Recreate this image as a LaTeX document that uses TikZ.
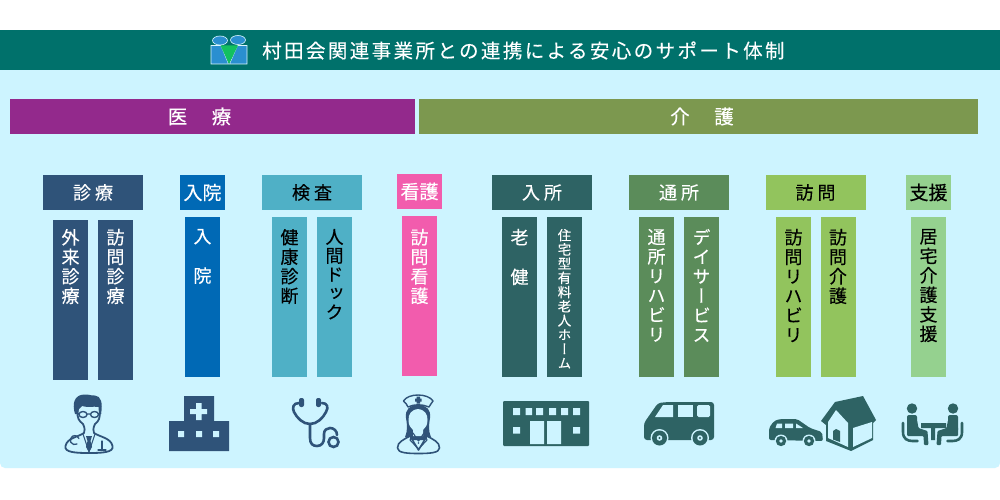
\documentclass[tikz,border=0pt]{standalone}
\usepackage{fontspec}
\setmainfont{Noto Sans CJK JP}
\newfontfamily\jpf[FakeBold=0.25]{Noto Sans CJK JP}
\newfontfamily\jpt[LetterSpace=12.3,FakeBold=0.15]{Noto Sans CJK JP}
\newfontfamily\jpv[RawFeature={+vert},FakeBold=0.25]{Noto Sans CJK JP}
\definecolor{band}{HTML}{00716B}
\definecolor{panel}{HTML}{CDF4FF}
\definecolor{purp}{HTML}{93298C}
\definecolor{olive}{HTML}{7C984F}
\definecolor{navy}{HTML}{2F5379}
\definecolor{blue}{HTML}{0069B5}
\definecolor{cyan2}{HTML}{4FB0C6}
\definecolor{pink}{HTML}{F25CAD}
\definecolor{teal2}{HTML}{2E6364}
\definecolor{gr1}{HTML}{5B8C5A}
\definecolor{gr2}{HTML}{92C45D}
\definecolor{gr3}{HTML}{95D18F}
\definecolor{logoblue}{HTML}{2A8FD0}
\definecolor{logogreen}{HTML}{12C060}
\tikzset{
  x=1pt,y=-1pt,
  bar/.style={inner sep=0pt,outer sep=0pt,minimum height=35pt,text=white,font=\jpf\fontsize{19.5}{22}\selectfont},
  head/.style={inner sep=0pt,outer sep=0pt,minimum height=35pt,font=\jpf\fontsize{18}{20}\selectfont},
  wide/.style={head,minimum width=100pt},
  narrow/.style={head,minimum width=45pt,font=\jpf\fontsize{19}{20}\selectfont},
  colbox/.style={inner sep=0pt,outer sep=0pt,minimum width=35pt,minimum height=160pt},
  vtext/.style={inner sep=0pt,outer sep=0pt,anchor=north,align=center,font=\jpv\fontsize{18}{19.5}\selectfont},
  tight/.style={vtext,font=\jpv\fontsize{18}{18.8}\selectfont},
  small/.style={vtext,font=\jpv\fontsize{13.5}{14.2}\selectfont},
  ico/.style={line width=1.8pt,draw=navy,line join=round,line cap=round},
}
\begin{document}
\begin{tikzpicture}
\path[use as bounding box,fill=white] (0,0) rectangle (1000,500);
\fill[panel,rounded corners=5pt] (0,60) rectangle (1000,468);
\fill[band] (0,30) rectangle (1000,70);
% logo
\path[draw=panel!70!white,line width=.6pt,fill=logoblue] (211,45.5) -- (221,45.5) -- (228.5,64) -- (211,64) -- cycle;
\path[draw=panel!70!white,line width=.6pt,fill=logoblue] (247,45.5) -- (237.5,45.5) -- (229.5,64) -- (247,64) -- cycle;
\path[fill=logogreen] (220.5,45.5) -- (238,45.5) -- (229,64) -- cycle;
\path[draw=panel!70!white,line width=.6pt,fill=logoblue] (220,40.5) ellipse (7.5 and 4.5);
\path[draw=panel!70!white,line width=.6pt,fill=logoblue] (238,40) ellipse (7.5 and 4.5);
\node[inner sep=0pt,anchor=west,text=white,font=\jpt\fontsize{19.5}{21}\selectfont] (title) at (262,50.5) {村田会関連事業所との連携による安心のサポート体制};
% main bars
\node[bar,fill=purp,minimum width=405pt] (med) at (212.5,116.5) {\hspace*{-26pt}医　\hspace{5pt}療};
\node[bar,fill=olive,minimum width=559pt] (care) at (698.5,116.5) {\hspace*{7pt}介　\hspace{5pt}護};
% headers
\node[wide,fill=navy,text=white] (h1) at (93,192.5) {診\hspace{4pt}療};
\node[narrow,fill=blue,text=white] (h2) at (202.5,192.5) {入院};
\node[wide,fill=cyan2,text=black] (h3) at (312,192.5) {検\hspace{4pt}査};
\node[narrow,fill=pink,text=white] (h4) at (419.5,191.5) {看護};
\node[wide,fill=teal2,text=white] (h5) at (542,192.5) {入\hspace{4pt}所};
\node[wide,fill=gr1,text=white] (h6) at (679,192.5) {通\hspace{4pt}所};
\node[wide,fill=gr2,text=black] (h7) at (815.5,192.5) {訪\hspace{4pt}問};
\node[narrow,fill=gr3,text=black] (h8) at (928.5,192.5) {支援};
% columns
\node[colbox,fill=navy] (c1) at (70.5,300) {};
\node[colbox,fill=navy] (c2) at (115.5,300) {};
\node[colbox,fill=blue] (c3) at (202.5,297) {};
\node[colbox,fill=cyan2] (c4) at (289.5,297) {};
\node[colbox,fill=cyan2] (c5) at (334.5,297) {};
\node[colbox,fill=pink] (c6) at (419.5,296) {};
\node[colbox,fill=teal2] (c7) at (519.5,297) {};
\node[colbox,fill=teal2] (c8) at (564.5,297) {};
\node[colbox,fill=gr1] (c9) at (656.5,297) {};
\node[colbox,fill=gr1] (c10) at (701.5,297) {};
\node[colbox,fill=gr2] (c11) at (793.5,297) {};
\node[colbox,fill=gr2] (c12) at (838,297) {};
\node[colbox,fill=gr3] (c13) at (928.5,297) {};
% column texts
\node[vtext,text=white] (t1) at (70.5,229) {外\\来\\診\\療};
\node[vtext,text=white] (t2) at (115.5,229) {訪\\問\\診\\療};
\node[vtext,text=white] (t3) at (202.5,229) {入\\[20pt]院};
\node[vtext,text=black] (t4) at (289.5,229) {健\\康\\診\\断};
\node[tight,text=black] (t5) at (334.5,229) {人\\間\\ド\\ッ\\ク};
\node[vtext,text=white] (t6) at (419.5,229) {訪\\問\\看\\護};
\node[vtext,text=white] (t7) at (519.5,229) {老\\[20pt]健};
\node[small,text=white] (t8) at (564.5,229) {住\\宅\\型\\有\\料\\老\\人\\ホ\\ー\\ム};
\node[vtext,text=white] (t9) at (656.5,229) {通\\所\\リ\\ハ\\ビ\\リ};
\node[vtext,text=white] (t10) at (701.5,229) {デ\\イ\\サ\\ー\\ビ\\ス};
\node[vtext,text=black] (t11) at (793.5,229) {訪\\問\\リ\\ハ\\ビ\\リ};
\node[vtext,text=black] (t12) at (838,229) {訪\\問\\介\\護};
\node[vtext,text=black] (t13) at (928.5,229) {居\\宅\\介\\護\\支\\援};
% doctor
\fill[navy] (75,414) .. controls (72,404) and (74,395) .. (84,394.5) .. controls (88,394) and (92,396) .. (95,395.5) .. controls (101,396) and (103,403) .. (101,414) -- (99,414) -- (98.5,407) .. controls (93,406) and (88,408) .. (82,406) -- (79,409) -- (78,414) -- cycle;
\draw[ico] (77.5,411) .. controls (77,418) and (79,421) .. (83,424) .. controls (85,428) and (85,431) .. (84,433) .. controls (78,437) and (67,438) .. (65.5,446) .. controls (64,452.5) and (76,453) .. (89,453) .. controls (102,453) and (114,452.5) .. (112.5,446) .. controls (111,438) and (100,437) .. (94,433) .. controls (93,431) and (93,428) .. (95,424) .. controls (99,421) and (100,418) .. (100,411);
\draw[line width=1.4pt,navy] (83,414.5) ellipse (4 and 3) (94.5,414.5) ellipse (4 and 3) (87,414) -- (90.5,414) (76,413) -- (79,414) (98.5,414) -- (101,413);
\draw[ico,line width=1pt] (83,434) -- (89,452) -- (95,434);
\fill[navy] (86,436) -- (92,436) -- (90.5,441) -- (92,447) -- (89,452) -- (86,447) -- (87.5,441) -- cycle;
\draw[ico,line width=1.3pt] (77,444) arc (60:340:4.5);
\draw[ico,line width=1.2pt] (102,441) -- (102,449) (98,450) -- (106,450);
% hospital
\fill[navy] (184,396) rectangle (214,422) (169,421) rectangle (229,451);
\fill[panel] (190,409) rectangle (207,414) (196,403) rectangle (201.5,420);
\fill[panel] (178,431) rectangle (184,437) (196,431) rectangle (202,437) (213,431) rectangle (219,437);
% stethoscope
\fill[navy,rounded corners=2pt] (299,398) rectangle (304,407) (316,398) rectangle (321,407);
\draw[navy,line width=2.6pt,line cap=round,line join=round] (299,403) .. controls (293,403) and (292,408) .. (294,412) .. controls (297,418) and (303,424) .. (310,424) .. controls (317,424) and (323,418) .. (326,412) .. controls (329,407) and (327,403) .. (322,403);
\draw[navy,line width=2.6pt,line cap=round] (310,424) -- (310,438) .. controls (310,444) and (313,446) .. (317,446) .. controls (322,446) and (324,442) .. (324,438) -- (324,434) .. controls (324,430) and (327,428) .. (330,428) .. controls (334,428) and (337,431) .. (337,435);
\draw[navy,line width=2.6pt] (333.5,442) circle (5);
% nurse
\fill[navy] (418,405) .. controls (409,405) and (405,410) .. (406,418) .. controls (407,424) and (408,430) .. (405,437) -- (412,440) -- (424,440) -- (431,437) .. controls (428,430) and (429,424) .. (430,418) .. controls (431,410) and (427,405) .. (418,405) -- cycle;
\fill[panel] (418,409) .. controls (411,410) and (408.5,414) .. (408.5,420) .. controls (408.5,425) and (410.5,428) .. (413,430) -- (413,436) -- (423,436) -- (423,430) .. controls (425.5,428) and (427.5,425) .. (427.5,420) .. controls (427.5,414) and (425,410) .. (418,409) -- cycle;
\draw[ico,fill=panel,line width=1.4pt] (403.5,401) .. controls (408,393) and (428,393) .. (433,401) .. controls (431,404) and (430,405) .. (429,407) .. controls (422,404) and (414,404) .. (408,407) .. controls (407,405) and (406,403) .. (403.5,401) -- cycle;
\fill[navy] (416.5,396.5) rectangle (420,403.5) (415,398.5) rectangle (421.5,401.5);
\draw[ico,line width=1.6pt,fill=panel] (410,436) .. controls (403,440) and (397.5,442) .. (397.5,448) .. controls (397.5,453) and (408,453.5) .. (418.5,453.5) .. controls (429,453.5) and (439.5,453) .. (439.5,448) .. controls (439.5,442) and (434,440) .. (427,436) -- (418.5,450) -- cycle;
\draw[ico,line width=1.1pt] (413,433) -- (410,440) -- (418.5,449) -- (427,440) -- (424,433) (413,433) -- (418.5,441) -- (424,433);
\fill[navy] (418.5,443) circle (.8);
% building
\fill[teal2,rounded corners=1pt] (503,401) rectangle (589,446);
\fill[panel] (513,408) rectangle (520,415) (525.5,408) rectangle (532,415) (536,408) rectangle (543,415) (549,408) rectangle (556,415) (561,408) rectangle (568,415) (573,408) rectangle (580,415) (513,427) rectangle (520,433.5) (573,427) rectangle (580,433.5) (530,421) rectangle (544,444) (547,421) rectangle (561,444);
% bus
\fill[teal2,rounded corners=3pt] (668,402) -- (714,402) -- (714,440) -- (644,440) -- (644,423) -- (658,403) -- cycle;
\fill[panel] (655,417) -- (673,417) -- (673,405) -- (663,405) -- cycle;
\fill[panel] (678,405) rectangle (693,417);
\fill[panel,rounded corners=1.5pt] (697,405) rectangle (710,417);
\foreach \wx/\wn in {659.5/a,700/b} {
  \fill[panel] (\wx,438) circle (9);
  \fill[teal2] (\wx,438) circle (7.5);
  \fill[panel] (\wx,438) circle (2.8);
  \fill[teal2] (\wx,438) circle (1.2);
}
% car
\fill[teal2,rounded corners=2pt] (769,440) -- (769,428) -- (774,421) -- (780,419) -- (797,419) -- (810,428) -- (822,432) -- (823,441) -- cycle;
\fill[panel] (777,423.5) -- (782,423.5) -- (782,428) -- (775.5,428) -- cycle (785,423.5) -- (793,423.5) -- (793,428) -- (785,428) -- cycle (796,423.5) -- (803,428) -- (796,428) -- cycle;
\foreach \wx in {781,809} {
  \fill[panel] (\wx,441) circle (6.5);
  \fill[teal2] (\wx,441) circle (5.2);
  \fill[panel] (\wx,441) circle (1.9);
}
% house
\fill[teal2,line join=round] (835,402) -- (863,396) -- (876,420) -- (873,423) -- (873,440) -- (851,451) -- (826,441) -- (826,425) -- (821,421) -- cycle;
\fill[panel] (836,410) -- (828,422) -- (828,438) -- (848,447) -- (848,423) -- cycle;
\fill[panel] (853,428) -- (872,422) -- (872,438) -- (853,447) -- cycle;
\fill[teal2] (833,431) -- (836,429) -- (840,431) -- (840,442) -- (833,439.5) -- cycle;
% meeting
\begin{scope}
\foreach \mir in {1,-1} {
  \begin{scope}[shift={(932.5,0)},xscale=\mir]
    \fill[teal2] (-20.5,408.5) circle (5.2);
    \fill[teal2,rounded corners=2pt] (-25.5,415) rectangle (-15.5,432) ;
    \fill[teal2,rounded corners=1pt] (-25.5,427) -- (-15.5,420) -- (-14,428) -- (-5,431) -- (-4,445) -- (-8.5,445) -- (-9,436) -- (-25.5,436) -- cycle;
    \draw[teal2,line width=2.6pt,line cap=round] (-29.5,423) -- (-29.5,432) .. controls (-29.5,439) and (-25,441) .. (-20,441) -- (-15,441);
  \end{scope}
}
\end{scope}
\fill[teal2] (921,423) rectangle (946,428) (931,428) rectangle (935,440);
\end{tikzpicture}
\end{document}
